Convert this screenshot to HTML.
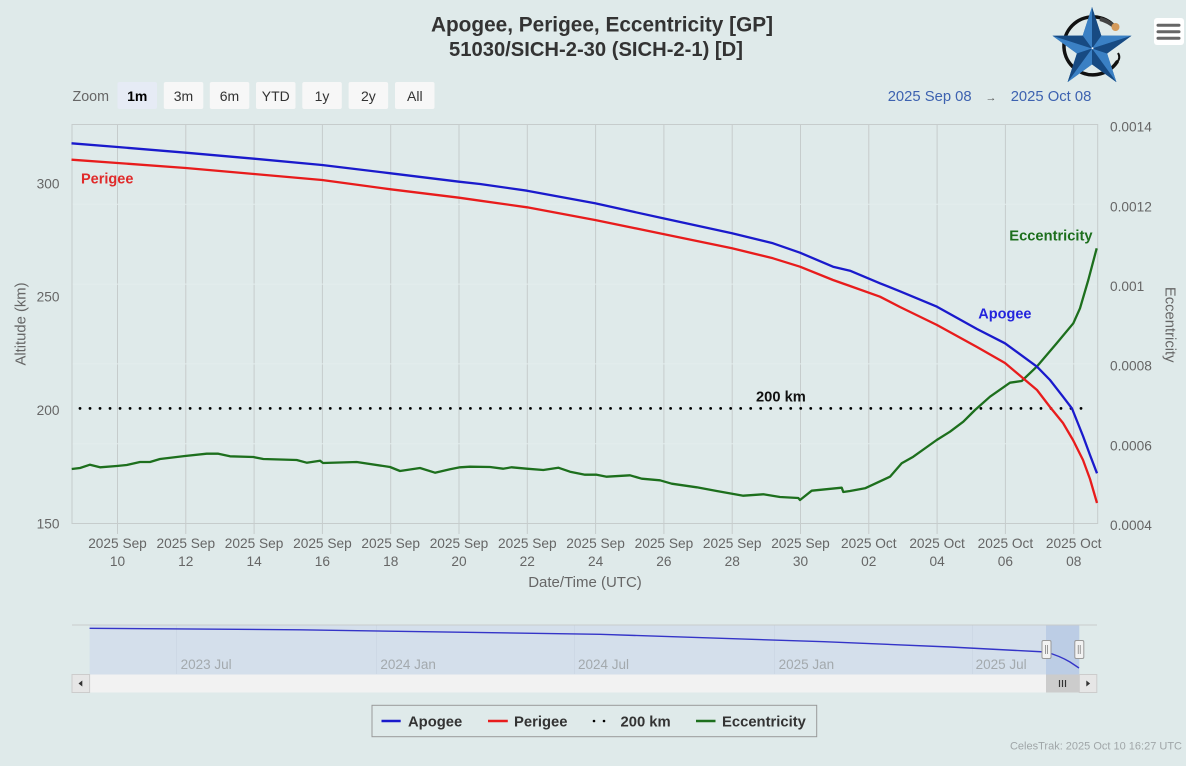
<!DOCTYPE html>
<html><head><meta charset="utf-8"><style>
html,body{margin:0;padding:0;background:#dfeaea;}
svg{display:block;font-family:"Liberation Sans",Arial,sans-serif;}
</style></head><body>
<svg width="1186" height="766" viewBox="0 0 1186 766" xmlns="http://www.w3.org/2000/svg">
<rect x="0" y="0" width="1186" height="766" fill="#dfeaea"/>

<!-- Title -->
<text x="602" y="31.5" text-anchor="middle" font-size="20.8" font-weight="bold" fill="#333">Apogee, Perigee, Eccentricity [GP]</text>
<text x="596" y="56" text-anchor="middle" font-size="20.2" font-weight="bold" fill="#333">51030/SICH-2-30 (SICH-2-1) [D]</text>

<!-- Logo -->
<g>
  <path d="M1115,27 A29,29 0 1 0 1117,62" fill="none" stroke="#111" stroke-width="3.5" stroke-linecap="round"/>
  <path d="M1117,62 q4,-4 1,-9" fill="none" stroke="#111" stroke-width="2"/>
  <path d="M1100,19 Q1108,21 1115,27" fill="none" stroke="#444" stroke-width="4"/>
  <circle cx="1115.5" cy="27" r="4" fill="#d49a5a"/>
  <polygon points="1092,7 1101.3,35.6 1131.5,35.7 1107.1,53.5 1116.4,82.1 1092,64.4 1067.6,82.1 1076.9,53.5 1052.5,35.7 1082.7,35.6" fill="#2264a8"/>
  <polygon points="1092,7 1092,48.5 1082.7,35.6" fill="#3a80c4"/>
  <polygon points="1131.5,35.7 1092,48.5 1101.3,35.6" fill="#3a80c4"/>
  <polygon points="1116.4,82.1 1092,48.5 1107.1,53.5" fill="#3a80c4"/>
  <polygon points="1067.6,82.1 1092,48.5 1092,64.4" fill="#3a80c4"/>
  <polygon points="1052.5,35.7 1092,48.5 1076.9,53.5" fill="#3a80c4"/>
  <polygon points="1092,7 1092,48.5 1101.3,35.6" fill="#174a82"/>
  <polygon points="1131.5,35.7 1092,48.5 1107.1,53.5" fill="#174a82"/>
  <polygon points="1116.4,82.1 1092,48.5 1092,64.4" fill="#174a82"/>
  <polygon points="1067.6,82.1 1092,48.5 1076.9,53.5" fill="#174a82"/>
  <polygon points="1052.5,35.7 1092,48.5 1082.7,35.6" fill="#174a82"/>
  <circle cx="1092.5" cy="48.3" r="1" fill="#fff"/>
</g>

<!-- Menu button -->
<rect x="1154" y="18" width="30" height="27" rx="3" fill="#fff"/>
<line x1="1158" y1="25.3" x2="1179" y2="25.3" stroke="#666" stroke-width="3" stroke-linecap="round"/>
<line x1="1158" y1="31.8" x2="1179" y2="31.8" stroke="#666" stroke-width="3" stroke-linecap="round"/>
<line x1="1158" y1="38.3" x2="1179" y2="38.3" stroke="#666" stroke-width="3" stroke-linecap="round"/>

<!-- Zoom buttons -->
<text x="72.5" y="101" font-size="14.3" fill="#666">Zoom</text>
<g font-size="14" fill="#333" text-anchor="middle">
  <rect x="117.5" y="82" width="39.5" height="27" rx="2" fill="#e6ebf5"/>
  <text x="137.2" y="101" font-weight="bold" fill="#000">1m</text>
  <rect x="163.8" y="82" width="39.5" height="27" rx="2" fill="#f7f7f7"/>
  <text x="183.5" y="101">3m</text>
  <rect x="209.8" y="82" width="39.5" height="27" rx="2" fill="#f7f7f7"/>
  <text x="229.5" y="101">6m</text>
  <rect x="256" y="82" width="39.5" height="27" rx="2" fill="#f7f7f7"/>
  <text x="275.8" y="101">YTD</text>
  <rect x="302.3" y="82" width="39.5" height="27" rx="2" fill="#f7f7f7"/>
  <text x="322" y="101">1y</text>
  <rect x="348.6" y="82" width="39.5" height="27" rx="2" fill="#f7f7f7"/>
  <text x="368.4" y="101">2y</text>
  <rect x="395" y="82" width="39.5" height="27" rx="2" fill="#f7f7f7"/>
  <text x="414.8" y="101">All</text>
</g>

<!-- Date range -->
<text x="887.7" y="101" font-size="14.8" fill="#3d62b0">2025 Sep 08</text>
<text x="991" y="101" font-size="11" fill="#555" text-anchor="middle">→</text>
<text x="1010.7" y="101" font-size="14.8" fill="#3d62b0">2025 Oct 08</text>

<!-- Vertical gridlines + ticks -->
<g stroke="#c6cccc" stroke-width="1">
  <line x1="117.5" y1="124.5" x2="117.5" y2="534"/>
  <line x1="185.8" y1="124.5" x2="185.8" y2="534"/>
  <line x1="254.1" y1="124.5" x2="254.1" y2="534"/>
  <line x1="322.4" y1="124.5" x2="322.4" y2="534"/>
  <line x1="390.7" y1="124.5" x2="390.7" y2="534"/>
  <line x1="459.0" y1="124.5" x2="459.0" y2="534"/>
  <line x1="527.3" y1="124.5" x2="527.3" y2="534"/>
  <line x1="595.6" y1="124.5" x2="595.6" y2="534"/>
  <line x1="663.9" y1="124.5" x2="663.9" y2="534"/>
  <line x1="732.2" y1="124.5" x2="732.2" y2="534"/>
  <line x1="800.5" y1="124.5" x2="800.5" y2="534"/>
  <line x1="868.8" y1="124.5" x2="868.8" y2="534"/>
  <line x1="937.1" y1="124.5" x2="937.1" y2="534"/>
  <line x1="1005.4" y1="124.5" x2="1005.4" y2="534"/>
  <line x1="1073.7" y1="124.5" x2="1073.7" y2="534"/>
</g>
<!-- faint horizontal grid -->
<g stroke="#e3eded" stroke-width="1">
  <line x1="72" y1="204.3" x2="1097" y2="204.3"/>
  <line x1="72" y1="284.1" x2="1097" y2="284.1"/>
  <line x1="72" y1="363.9" x2="1097" y2="363.9"/>
  <line x1="72" y1="443.7" x2="1097" y2="443.7"/>
</g>
<!-- plot border -->
<rect x="72" y="124.5" width="1025.7" height="399" fill="none" stroke="#c6cccc" stroke-width="1"/>

<!-- X labels -->
<g font-size="13.7" fill="#666" text-anchor="middle">
  <text x="117.5" y="548">2025 Sep</text><text x="117.5" y="566">10</text>
  <text x="185.8" y="548">2025 Sep</text><text x="185.8" y="566">12</text>
  <text x="254.1" y="548">2025 Sep</text><text x="254.1" y="566">14</text>
  <text x="322.4" y="548">2025 Sep</text><text x="322.4" y="566">16</text>
  <text x="390.7" y="548">2025 Sep</text><text x="390.7" y="566">18</text>
  <text x="459.0" y="548">2025 Sep</text><text x="459.0" y="566">20</text>
  <text x="527.3" y="548">2025 Sep</text><text x="527.3" y="566">22</text>
  <text x="595.6" y="548">2025 Sep</text><text x="595.6" y="566">24</text>
  <text x="663.9" y="548">2025 Sep</text><text x="663.9" y="566">26</text>
  <text x="732.2" y="548">2025 Sep</text><text x="732.2" y="566">28</text>
  <text x="800.5" y="548">2025 Sep</text><text x="800.5" y="566">30</text>
  <text x="868.8" y="548">2025 Oct</text><text x="868.8" y="566">02</text>
  <text x="937.1" y="548">2025 Oct</text><text x="937.1" y="566">04</text>
  <text x="1005.4" y="548">2025 Oct</text><text x="1005.4" y="566">06</text>
  <text x="1073.7" y="548">2025 Oct</text><text x="1073.7" y="566">08</text>
</g>
<text x="585" y="587" font-size="15" fill="#666" text-anchor="middle">Date/Time (UTC)</text>

<!-- Left axis -->
<g font-size="13.7" fill="#666" text-anchor="end">
  <text x="59.5" y="188.3">300</text>
  <text x="59.5" y="301.6">250</text>
  <text x="59.5" y="415">200</text>
  <text x="59.5" y="528.3">150</text>
</g>
<text transform="translate(25.5,324) rotate(-90)" font-size="14.8" fill="#666" text-anchor="middle">Altitude (km)</text>

<!-- Right axis -->
<g font-size="13.7" fill="#666">
  <text x="1110" y="131.3">0.0014</text>
  <text x="1110" y="211.3">0.0012</text>
  <text x="1110" y="290.9">0.001</text>
  <text x="1110" y="370.7">0.0008</text>
  <text x="1110" y="450.5">0.0006</text>
  <text x="1110" y="530">0.0004</text>
</g>
<text transform="translate(1165.5,324.7) rotate(90)" font-size="14.8" fill="#666" text-anchor="middle">Eccentricity</text>

<!-- 200 km dotted line -->
<line x1="80" y1="408.4" x2="1091" y2="408.4" stroke="#000" stroke-width="2.8" stroke-linecap="round" stroke-dasharray="0.01 10"/>

<!-- Eccentricity -->
<polyline fill="none" stroke="#1d6f1d" stroke-width="2.3" stroke-linejoin="round" points="71.7,469 80,468 90,464.7 100,467.3 116.7,466 126.7,465 140,462 150,462 160,459 185,456 206.7,453.7 218.3,453.7 230,456.3 253.3,457 263.3,459 296.7,460 306.7,462.7 320,460.7 323,463 356.7,462 390,467 400,471 420,468 435,472.7 450,469.3 460,467.3 470,466.7 490,467 503,468.7 511.7,467.3 526.7,468.7 543.3,470 558.3,467.7 570,471.7 585,474.7 596.7,474.7 606.7,476.7 630,475.3 641.7,478.7 660,480.3 671.7,483.7 696.7,487.3 716.7,491 743.3,495.7 763.3,494.3 780,497 798.3,498 800,500 811.7,490.7 841.7,487.7 843.3,492 850,491 865,488.3 890,476.7 901.7,463.3 913.3,456.7 936.7,440 950,431.7 963.3,421.7 975,410 990,396.7 1010,382.7 1021.7,381 1036.7,366.7 1056.7,343.3 1073.3,323.3 1080,308.3 1088.3,280 1096.7,248.3"/>

<!-- Perigee -->
<polyline fill="none" stroke="#e81c1c" stroke-width="2.3" stroke-linejoin="round" points="71.5,159.7 117.5,163 185.8,168 254,174 322,180 390.7,189.3 459,197.7 480,200.7 527,207.3 595,220 663,234 732,248.3 773,258.3 800,266.7 833,280 850,286 880,296.7 900,307 937,325 977,347 1005,363 1037,390 1050,407 1063,423 1073,440 1083,460 1090,479 1097,503"/>

<!-- Apogee -->
<polyline fill="none" stroke="#1a1acc" stroke-width="2.3" stroke-linejoin="round" points="71.5,143.3 117.5,147 185.8,152.7 254,158.7 322,165 390.7,173.3 459,181.7 480,184 527,190.7 595,203.3 663,218.3 732,233.3 773,243.3 800,252.7 833,266.7 850,270.7 880,283.3 900,291.3 937,306.7 977,329 1005,343.3 1037,366.7 1050,380 1063,396.7 1072,408.5 1083,436 1090,455 1097,473.3"/>

<!-- Series labels -->
<text x="81" y="183.5" font-size="14.5" font-weight="bold" fill="#e02a2a">Perigee</text>
<text x="978.3" y="318.5" font-size="14.5" font-weight="bold" fill="#2424dd">Apogee</text>
<text x="1009.3" y="240.5" font-size="14.7" font-weight="bold" fill="#1d6f1d">Eccentricity</text>
<text x="756" y="401.5" font-size="14.7" font-weight="bold" fill="#111">200 km</text>

<!-- Navigator -->
<rect x="89.6" y="625" width="956.4" height="49.5" fill="#d4dfeb"/>
<rect x="1046" y="625" width="33.3" height="49.5" fill="#bccde5"/>
<g stroke="#cdd8e5" stroke-width="1">
  <line x1="176.5" y1="625" x2="176.5" y2="674"/>
  <line x1="376.5" y1="625" x2="376.5" y2="674"/>
  <line x1="574.5" y1="625" x2="574.5" y2="674"/>
  <line x1="774.5" y1="625" x2="774.5" y2="674"/>
  <line x1="972.5" y1="625" x2="972.5" y2="674"/>
</g>
<line x1="72" y1="625" x2="1097" y2="625" stroke="#c8cccc" stroke-width="1"/>
<path d="M89.6,628.3 L300,629.8 L600,634.3 L824,641.7 L950,647 L1046,652 Q1060,656 1070,662 L1079,668" fill="none" stroke="#3434c8" stroke-width="1.4"/>
<g font-size="13.5" fill="#a3a9ad">
  <text x="180.6" y="669">2023 Jul</text>
  <text x="380.4" y="669">2024 Jan</text>
  <text x="578" y="669">2024 Jul</text>
  <text x="778.6" y="669">2025 Jan</text>
  <text x="975.6" y="669">2025 Jul</text>
</g>
<!-- handles -->
<rect x="1042" y="640.5" width="9" height="18" rx="1.5" fill="#f2f2f2" stroke="#999" stroke-width="1"/>
<line x1="1045.5" y1="645" x2="1045.5" y2="654" stroke="#999" stroke-width="1"/>
<line x1="1047.5" y1="645" x2="1047.5" y2="654" stroke="#999" stroke-width="1"/>
<rect x="1074.8" y="640.5" width="9" height="18" rx="1.5" fill="#f2f2f2" stroke="#999" stroke-width="1"/>
<line x1="1078.3" y1="645" x2="1078.3" y2="654" stroke="#999" stroke-width="1"/>
<line x1="1080.3" y1="645" x2="1080.3" y2="654" stroke="#999" stroke-width="1"/>

<!-- Scrollbar -->
<rect x="72" y="674.5" width="1025" height="18" fill="#f2f2f2"/>
<rect x="72" y="674.5" width="17.6" height="18" fill="#e6e6e6" stroke="#cccccc" stroke-width="1"/>
<polygon points="82.3,680.5 82.3,686.5 78.5,683.5" fill="#333"/>
<rect x="1046" y="674.5" width="33.3" height="18" fill="#cccccc"/>
<g stroke="#333" stroke-width="1.2">
  <line x1="1059.5" y1="680" x2="1059.5" y2="687"/>
  <line x1="1062.5" y1="680" x2="1062.5" y2="687"/>
  <line x1="1065.5" y1="680" x2="1065.5" y2="687"/>
</g>
<rect x="1079.3" y="674.5" width="17.5" height="18" fill="#e6e6e6" stroke="#cccccc" stroke-width="1"/>
<polygon points="1086.3,680.5 1086.3,686.5 1090.1,683.5" fill="#333"/>

<!-- Legend -->
<rect x="372" y="705.3" width="444.7" height="31.4" fill="none" stroke="#999" stroke-width="1"/>
<g font-size="14.8" font-weight="bold" fill="#333">
  <line x1="381.5" y1="721" x2="400.7" y2="721" stroke="#1a1acc" stroke-width="2.5"/>
  <text x="408" y="726.5">Apogee</text>
  <line x1="488" y1="721" x2="507.8" y2="721" stroke="#e81c1c" stroke-width="2.5"/>
  <text x="514" y="726.5">Perigee</text>
  <line x1="594" y1="721" x2="605" y2="721" stroke="#000" stroke-width="2.6" stroke-linecap="round" stroke-dasharray="0.01 10"/>
  <text x="620.5" y="726.5">200 km</text>
  <line x1="696" y1="721" x2="715.5" y2="721" stroke="#1d6f1d" stroke-width="2.5"/>
  <text x="722" y="726.5">Eccentricity</text>
</g>

<!-- Footer -->
<text x="1182" y="749.5" font-size="11" fill="#a0a6a8" text-anchor="end">CelesTrak: 2025 Oct 10 16:27 UTC</text>
</svg>
</body></html>
